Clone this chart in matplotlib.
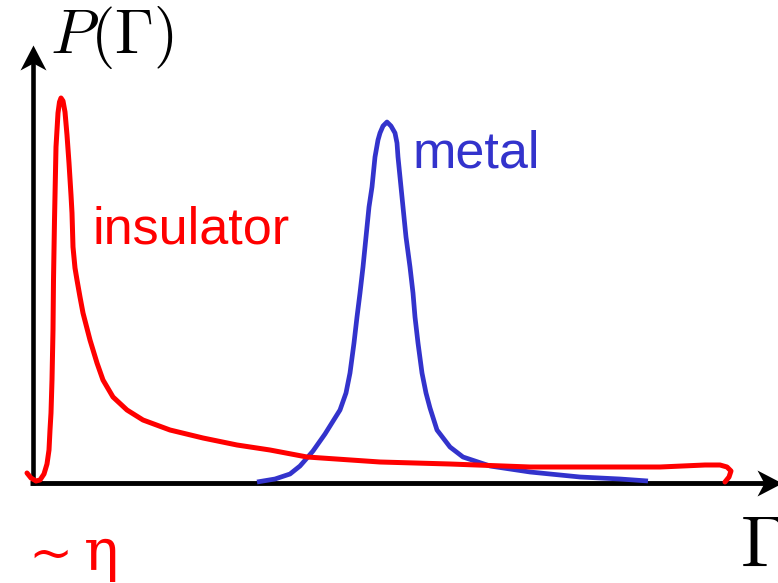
import numpy as np
import matplotlib
matplotlib.use("Agg")
import matplotlib.pyplot as plt
from matplotlib.path import Path

plt.rcParams['mathtext.fontset'] = 'cm'
plt.rcParams['font.family'] = ['Liberation Sans', 'DejaVu Sans']

# schematic curves, Gamma along x, P(Gamma) along y (arbitrary units)
ins_x = [-6, -2, 3, 7, 11, 14, 16, 17, 18, 19, 20, 20.5, 21.5, 23, 25, 26.5, 28, 30,
         32, 34, 36, 38, 39, 40, 42, 44, 47, 50, 57, 64, 70, 80, 94, 110, 137, 170,
         204, 237, 274, 347, 417, 497, 567, 627, 672, 687, 694, 698, 696, 692]
ins_y = [10, 5, 2, 3, 9, 19, 33, 53, 70, 103, 153, 203, 263, 336, 370, 381, 385, 382,
         371, 348, 320, 288, 270, 236, 215, 203, 186, 170, 143, 120, 103, 86, 73, 63, 53, 45,
         38, 33, 26, 21, 19, 16, 16, 16, 18, 18, 16, 12, 6, 1]

met_x = [224, 242, 257, 267, 274, 280, 292, 307, 313, 317, 321, 324, 327, 330, 333,
         336, 339, 342, 345, 347, 350, 354, 358, 362, 364, 365, 368, 370, 373, 377,
         380, 382, 385, 389, 393, 397, 404, 417, 430, 457, 497, 547, 587, 615]
met_y = [1, 4, 9, 17, 25, 32, 49, 73, 90, 110, 140, 166, 190, 216, 246,
         276, 296, 326, 343, 350, 357, 361, 357, 350, 340, 326, 296, 276, 246, 216,
         190, 166, 140, 110, 90, 75, 53, 36, 26, 17, 11, 6, 4, 2]

red = '#ff0000'
blue = '#3333cc'

fig = plt.figure(figsize=(7.78, 5.83), dpi=100)
ax = fig.add_axes([0, 0, 1, 1])
ax.set_xlim(-33, 745)
ax.set_ylim(-100, 483)
ax.axis('off')

# axes with arrows
head_up = Path([(0, 0), (-0.52, -1), (0, -0.72), (0.52, -1), (0, 0)],
               [Path.MOVETO, Path.LINETO, Path.LINETO, Path.LINETO, Path.CLOSEPOLY])
head_right = Path([(0, 0), (-1, 0.52), (-0.72, 0), (-1, -0.52), (0, 0)],
                  [Path.MOVETO, Path.LINETO, Path.LINETO, Path.LINETO, Path.CLOSEPOLY])
ax.plot([0, 0], [-2, 425], color='k', lw=3.3, solid_capstyle='butt')
ax.plot([-3, 735], [0, 0], color='k', lw=3.5, solid_capstyle='butt')
ax.plot([0], [438], marker=head_up, ms=36, color='k', mew=0)
ax.plot([749], [0], marker=head_right, ms=36, color='k', mew=0)

ax.plot(met_x, met_y, color=blue, lw=3.4, solid_joinstyle='round', solid_capstyle='butt')
ax.plot(ins_x, ins_y, color=red, lw=3.6, solid_joinstyle='round', solid_capstyle='round')

ax.text(59, 240, 'insulator', color=red, fontsize=37.5, ha='left', va='baseline')
ax.text(380, 316, 'metal', color=blue, fontsize=37.5, ha='left', va='baseline')
ax.text(17, 430, r'$P(\Gamma)$', fontsize=45, ha='left', va='baseline')
ax.text(707, -84, r'$\Gamma$', fontsize=52, ha='left', va='baseline')
ax.text(-5, -87, '~', color=red, fontsize=38, ha='left', va='baseline',
        family=['DejaVu Serif'])
ax.text(51, -87, 'η', color=red, fontsize=42, ha='left', va='baseline',
        family=['DejaVu Serif'])

fig.savefig('out.png', dpi=100)
